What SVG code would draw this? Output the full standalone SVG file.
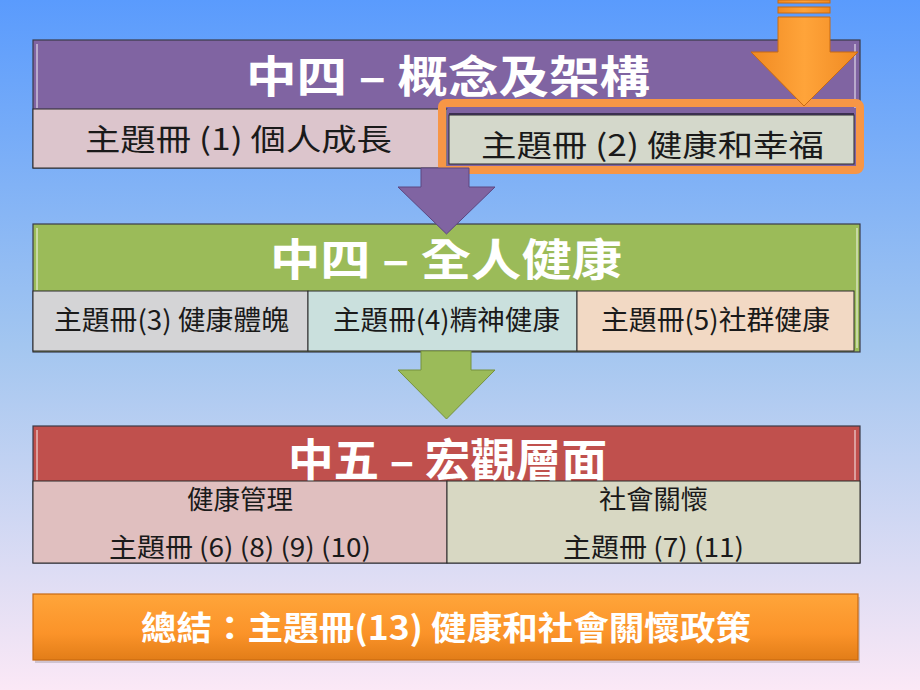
<svg xmlns="http://www.w3.org/2000/svg" width="920" height="690" viewBox="0 0 920 690">
<defs>
<linearGradient id="bg" x1="0" y1="0" x2="0" y2="1">
<stop offset="0" stop-color="#5a9bfd"/>
<stop offset="0.5" stop-color="#a3c6f0"/>
<stop offset="1" stop-color="#fbe8f6"/>
</linearGradient>
<linearGradient id="og" x1="0" y1="0" x2="0" y2="1">
<stop offset="0" stop-color="#ffa53a"/>
<stop offset="0.6" stop-color="#fb9329"/>
<stop offset="1" stop-color="#e27d18"/>
</linearGradient>
<linearGradient id="oa" x1="0" y1="0" x2="1" y2="0">
<stop offset="0" stop-color="#f08a22"/>
<stop offset="0.5" stop-color="#ffa43a"/>
<stop offset="1" stop-color="#f08a22"/>
</linearGradient>
</defs>
<style>
.hd{font-family:"Noto Sans CJK TC","Noto Sans CJK SC",sans-serif;font-weight:bold;fill:#ffffff;text-anchor:middle;}
.cl{font-family:"Noto Sans CJK TC","Noto Sans CJK SC",sans-serif;fill:#1a1a1a;text-anchor:middle;}
.bx{stroke:#3a3a48;stroke-width:1.2;}
.cell{stroke:#2a2a2a;stroke-width:1;}
.hl{fill:none;stroke:#ffffff;stroke-opacity:0.45;stroke-width:2;}
</style>
<rect x="0" y="0" width="920" height="690" fill="url(#bg)"/>

<g id="node-s4-concept">
<rect class="bx" x="33" y="40" width="827" height="128" fill="#8064a2"/>
<line class="hl" x1="37" y1="44" x2="37" y2="108"/>
<line class="hl" x1="855" y1="44" x2="855" y2="108"/>
<text class="hd" x="448" y="93" font-size="44" textLength="404" lengthAdjust="spacingAndGlyphs">中四 – 概念及架構</text>
<rect class="cell" x="33" y="109" width="414" height="59" fill="#dcc5cc"/>
<text class="cl" x="238.5" y="150" font-size="30" textLength="307" lengthAdjust="spacingAndGlyphs">主題冊 (1) 個人成長</text>
<rect x="447" y="109" width="413" height="59" fill="#8064a2"/>
<rect x="449" y="115" width="405" height="49" fill="#d4d8cb" stroke="#2a2a2a" stroke-width="1"/>
<line x1="449" y1="114" x2="854" y2="114" stroke="#3c3050" stroke-width="2"/>
<text class="cl" x="652.5" y="156" font-size="30" textLength="343" lengthAdjust="spacingAndGlyphs">主題冊 (2) 健康和幸福</text>
<rect x="442" y="103" width="418" height="67" rx="4" fill="none" stroke="#f79646" stroke-width="8"/>
</g>

<g id="node-s4-whole">
<rect class="bx" x="33" y="224" width="827" height="128" fill="#9bbb59"/>
<line class="hl" x1="37" y1="228" x2="37" y2="290"/>
<line class="hl" x1="857" y1="228" x2="857" y2="348"/>
<text class="hd" x="446" y="276" font-size="44" textLength="352" lengthAdjust="spacingAndGlyphs">中四 – 全人健康</text>
<rect class="cell" x="33" y="291" width="275" height="60" fill="#d4d4d6"/>
<rect class="cell" x="308" y="291" width="269" height="60" fill="#cae0dd"/>
<rect class="cell" x="577" y="291" width="277" height="60" fill="#f2d9c4"/>
<text class="cl" x="171.5" y="330" font-size="27" textLength="235" lengthAdjust="spacingAndGlyphs">主題冊(3) 健康體魄</text>
<text class="cl" x="446.5" y="330" font-size="27" textLength="227" lengthAdjust="spacingAndGlyphs">主題冊(4)精神健康</text>
<text class="cl" x="715.5" y="330" font-size="27" textLength="229" lengthAdjust="spacingAndGlyphs">主題冊(5)社群健康</text>
</g>

<g id="node-s5-macro">
<rect class="bx" x="33" y="426" width="827" height="137" fill="#c0504d"/>
<line class="hl" x1="37" y1="430" x2="37" y2="480"/>
<line class="hl" x1="855" y1="430" x2="855" y2="480"/>
<text class="hd" x="447.5" y="477" font-size="45" textLength="319" lengthAdjust="spacingAndGlyphs">中五 – 宏觀層面</text>
<rect class="cell" x="33" y="481" width="414" height="82" fill="#e0bfbf"/>
<rect class="cell" x="447" y="481" width="413" height="82" fill="#d8d8c3"/>
<text class="cl" x="240" y="509" font-size="26" textLength="106" lengthAdjust="spacingAndGlyphs">健康管理</text>
<text class="cl" x="240" y="557" font-size="26" textLength="262" lengthAdjust="spacingAndGlyphs">主題冊 (6) (8) (9) (10)</text>
<text class="cl" x="653.5" y="509" font-size="26" textLength="109" lengthAdjust="spacingAndGlyphs">社會關懷</text>
<text class="cl" x="653.5" y="557" font-size="26" textLength="181" lengthAdjust="spacingAndGlyphs">主題冊 (7) (11)</text>
</g>

<g id="node-summary">
<rect x="35" y="597" width="825" height="66" fill="#000000" opacity="0.15"/>
<rect x="33" y="594" width="825" height="66" fill="url(#og)" stroke="#c86a12" stroke-width="1.2"/>
<text class="hd" x="446" y="640" font-size="33" textLength="610" lengthAdjust="spacingAndGlyphs">總結：主題冊(13) 健康和社會關懷政策</text>
</g>

<g id="connectors">
<polygon points="421,168 469,168 469,187 495,187 446.5,234 398,187 421,187" fill="#8064a2" stroke="#5c4680" stroke-width="1"/>
<polygon points="421,351 471,351 471,370 495,370 446.5,419 398,370 421,370" fill="#9bbb59" stroke="#76923c" stroke-width="1"/>
<g id="arrow-orange" fill="url(#oa)" stroke="#c86a12" stroke-width="1">
<rect x="778" y="0" width="52" height="3"/>
<rect x="778" y="7" width="52" height="6"/>
<polygon points="778,17 830,17 830,52 858,52 804,106 751,52 778,52"/>
</g>
</g>
</svg>
